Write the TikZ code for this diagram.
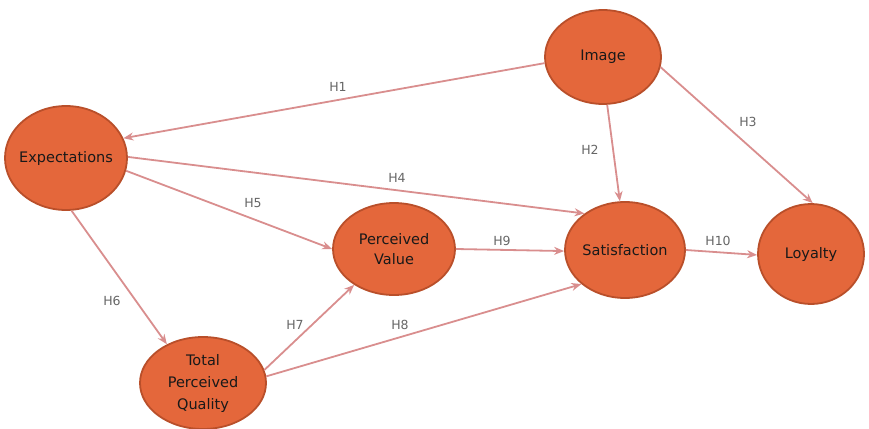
\documentclass[tikz,border=0pt]{standalone}
\usepackage{fontspec}
\setmainfont{DejaVu Sans}
\usetikzlibrary{arrows.meta,shapes.geometric}
\definecolor{nodefill}{HTML}{E4673B}
\definecolor{nodeline}{HTML}{B94F2A}
\definecolor{linkcol}{HTML}{D98E8E}
\definecolor{labcol}{HTML}{666666}
\tikzset{
  construct/.style={ellipse, draw=nodeline, line width=1.8pt, fill=nodefill,
    inner sep=0pt, font=\fontsize{14.5}{20}\selectfont, text=black!90, align=center},
  link/.style={draw=linkcol, line width=1.8pt, -{Stealth[length=10pt,width=8pt]}},
  hlab/.style={font=\fontsize{12.5}{14}\selectfont, text=labcol}
}
\begin{document}
\begin{tikzpicture}[x=1pt,y=-1pt]
\useasboundingbox (0,0) rectangle (869,428);
% constructs (long names are boxed narrower so the ellipse keeps its size)
\node[construct, minimum width=116pt, minimum height=94pt] (img) at (603,57) {Image};
\node[construct, minimum width=122pt, minimum height=104pt] (exp) at (66,158) {\makebox[70pt]{Expectations}};
\node[construct, minimum width=122pt, minimum height=92pt] (pv) at (394,249) {Perceived\\Value};
\node[construct, minimum width=120pt, minimum height=96pt] (sat) at (625,250) {\makebox[70pt]{Satisfaction}};
\node[construct, minimum width=106pt, minimum height=100pt] (loy) at (811,254) {Loyalty};
\node[construct, minimum width=126pt, minimum height=92pt, font=\fontsize{14.5}{22}\selectfont] (tpq) at (203,383) {Total\\\makebox[60pt]{Perceived}\\Quality};
% hypothesised paths
\draw[link] (img.186) -- (exp.19);
\draw[link] (img.275) -- (sat.96);
\draw[link] (img.350) -- (loy.88);
\draw[link] (exp.1) -- (sat.138);
\draw[link] (exp.-12) -- (pv.180);
\draw[link] (exp.276) -- (tpq.133);
\draw[link] (tpq.12) -- (pv.222);
\draw[link] (tpq.6) -- (sat.218);
\draw[link] (pv.0) -- (sat.181);
\draw[link] (sat.0) -- (loy.181);
% path labels
\node[hlab] (h1) at (338,87) {H1};
\node[hlab] (h2) at (590,150) {H2};
\node[hlab] (h3) at (748,122) {H3};
\node[hlab] (h4) at (397,178) {H4};
\node[hlab] (h5) at (253,203) {H5};
\node[hlab] (h6) at (112,301) {H6};
\node[hlab] (h7) at (295,325) {H7};
\node[hlab] (h8) at (400,325) {H8};
\node[hlab] (h9) at (502,241) {H9};
\node[hlab] (h10) at (718,241) {H10};
\end{tikzpicture}
\end{document}
